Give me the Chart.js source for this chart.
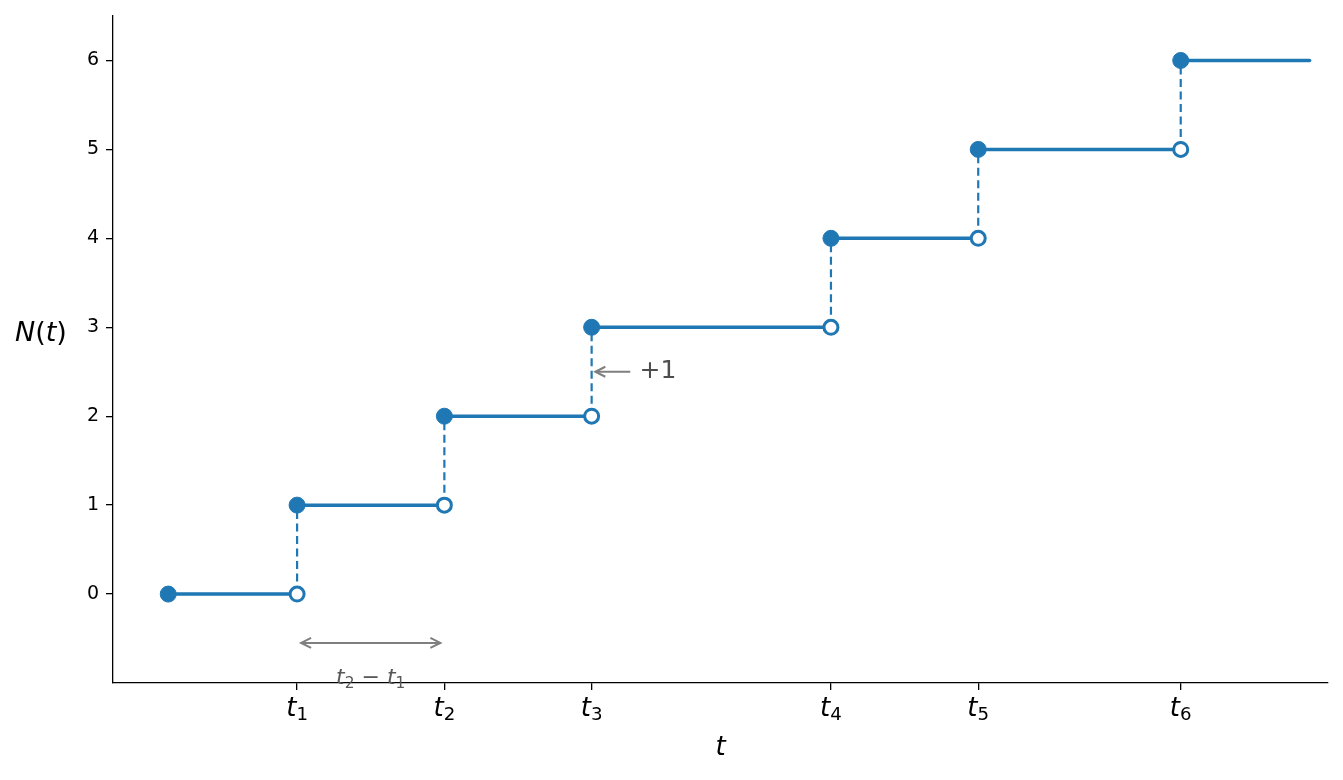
<!DOCTYPE html>
<html>
<head>
<meta charset="utf-8">
<script src="https://cdn.jsdelivr.net/npm/chart.js@4.4.0/dist/chart.umd.min.js"></script>
<style>
  html, body { margin: 0; padding: 0; background: #fff; }
  canvas { display: block; }
</style>
</head>
<body>
<canvas id="myChart" width="1343" height="780"></canvas>
<script>
// counting process N(t): jump times and counts
var startTime = 0;
var jumpTimes = [0.7, 1.5, 2.3, 3.6, 4.4, 5.5];
var endTime = 6.2;
var counts = [0, 1, 2, 3, 4, 5, 6];
var jumpLabels = ['1', '2', '3', '4', '5', '6'];
var yTicks = [0, 1, 2, 3, 4, 5, 6];

// annotations (data coordinates)
var gapArrowY = -0.55;
var gapLabelY = -0.97;
var plusArrow = { fromX: 2.51, toX: 2.32, y: 2.5, textX: 2.56 };

var blue = '#1f77b4';
var allTimes = [startTime].concat(jumpTimes).concat([endTime]);

var datasets = [];

// horizontal steps
for (var i = 0; i < counts.length; i++) {
    datasets.push({
        type: 'line',
        data: [{ x: allTimes[i], y: counts[i] }, { x: allTimes[i + 1], y: counts[i] }],
        borderColor: blue,
        borderWidth: 3.5,
        borderCapStyle: 'round',
        pointRadius: 0,
        order: 3
    });
}

// dashed jumps
for (var j = 0; j < jumpTimes.length; j++) {
    datasets.push({
        type: 'line',
        data: [{ x: jumpTimes[j], y: counts[j] }, { x: jumpTimes[j], y: counts[j + 1] }],
        borderColor: blue,
        borderWidth: 2.2,
        borderDash: [8, 4.5],
        pointRadius: 0,
        order: 2
    });
}

// filled dots (value taken at jump)
datasets.push({
    type: 'scatter',
    data: allTimes.slice(0, counts.length).map(function (t, k) { return { x: t, y: counts[k] }; }),
    backgroundColor: blue,
    borderColor: blue,
    borderWidth: 1,
    pointRadius: 8,
    order: 1
});

// open circles (limit from the left)
datasets.push({
    type: 'scatter',
    data: jumpTimes.map(function (t, k) { return { x: t, y: counts[k] }; }),
    backgroundColor: '#ffffff',
    borderColor: blue,
    borderWidth: 3,
    pointRadius: 7,
    order: 0
});

// draw a mathtext-like run of pieces
function drawMath(ctx, pieces, x, y, size, color, align) {
    var fam = '"DejaVu Sans"';
    function font(p) {
        var s = p.sub ? size * 0.7 : size;
        return (p.italic ? 'italic ' : '') + s + 'px ' + fam;
    }
    var total = 0;
    pieces.forEach(function (p) { ctx.font = font(p); total += ctx.measureText(p.text).width; });
    var cx = align === 'center' ? x - total / 2 : (align === 'right' ? x - total : x);
    ctx.save();
    ctx.fillStyle = color;
    ctx.textBaseline = 'middle';
    ctx.textAlign = 'left';
    pieces.forEach(function (p) {
        ctx.font = font(p);
        ctx.fillText(p.text, cx, p.sub ? y + size * 0.26 : y);
        cx += ctx.measureText(p.text).width;
    });
    ctx.restore();
}

function arrowHead(ctx, x, y, dir) {
    ctx.beginPath();
    ctx.moveTo(x - dir * 10, y - 5);
    ctx.lineTo(x, y);
    ctx.lineTo(x - dir * 10, y + 5);
    ctx.stroke();
}

var annotations = {
    id: 'annotations',
    afterDraw: function (chart) {
        var ctx = chart.ctx;
        var xs = chart.scales.x, ys = chart.scales.y;
        var area = chart.chartArea;

        // x tick labels t_i
        jumpTimes.forEach(function (t, k) {
            drawMath(ctx, [{ text: 't', italic: true }, { text: jumpLabels[k], sub: true }],
                xs.getPixelForValue(t), 709, 26, '#000', 'center');
        });

        // axis titles
        drawMath(ctx, [{ text: 't', italic: true }], (area.left + area.right) / 2, 748, 26, '#000', 'center');
        drawMath(ctx, [{ text: 'N', italic: true }, { text: '(' }, { text: 't', italic: true }, { text: ')' }],
            15, 334, 27, '#000', 'left');

        ctx.save();
        ctx.strokeStyle = '#7f7f7f';
        ctx.lineWidth = 2;
        ctx.lineJoin = 'miter';

        // double arrow between t1 and t2
        var ay = ys.getPixelForValue(gapArrowY);
        var ax0 = xs.getPixelForValue(jumpTimes[0]) + 4;
        var ax1 = xs.getPixelForValue(jumpTimes[1]) - 4;
        ctx.beginPath();
        ctx.moveTo(ax0, ay);
        ctx.lineTo(ax1, ay);
        ctx.stroke();
        arrowHead(ctx, ax0, ay, -1);
        arrowHead(ctx, ax1, ay, 1);

        // +1 arrow
        var py = ys.getPixelForValue(plusArrow.y);
        var px0 = xs.getPixelForValue(plusArrow.fromX);
        var px1 = xs.getPixelForValue(plusArrow.toX);
        ctx.beginPath();
        ctx.moveTo(px0, py);
        ctx.lineTo(px1, py);
        ctx.stroke();
        arrowHead(ctx, px1, py, -1);
        ctx.restore();

        drawMath(ctx, [{ text: '+1' }], xs.getPixelForValue(plusArrow.textX), py, 25, '#4d4d4d', 'left');

        var midT = (jumpTimes[0] + jumpTimes[1]) / 2;
        drawMath(ctx, [{ text: 't', italic: true }, { text: '2', sub: true }, { text: ' \u2212 ' },
                       { text: 't', italic: true }, { text: '1', sub: true }],
            xs.getPixelForValue(midT), ys.getPixelForValue(gapLabelY) - 2, 22, '#595959', 'center');
    }
};

var ctx = document.getElementById('myChart').getContext('2d');
var chart = new Chart(ctx, {
    type: 'line',
    data: { datasets: datasets },
    options: {
        responsive: false,
        animation: false,
        layout: { padding: { top: 16, right: 15, left: 0, bottom: 0 } },
        plugins: { legend: { display: false }, tooltip: { enabled: false } },
        scales: {
            x: {
                type: 'linear',
                min: -0.3,
                max: 6.3,
                afterBuildTicks: function (scale) {
                    scale.ticks = jumpTimes.map(function (t) { return { value: t }; });
                },
                afterFit: function (scale) {
                    scale.height = 97;
                    scale.paddingLeft = 0;
                    scale.paddingRight = 0;
                },
                ticks: { display: false },
                grid: { display: true, drawOnChartArea: false, drawTicks: true, tickLength: 7, color: '#000', lineWidth: 1.3 },
                border: { display: true, color: '#000', width: 1.3 }
            },
            y: {
                type: 'linear',
                min: -1,
                max: 6.5,
                afterBuildTicks: function (scale) {
                    scale.ticks = yTicks.map(function (v) { return { value: v }; });
                },
                afterFit: function (scale) {
                    scale.width = 113;
                    scale.paddingTop = 0;
                    scale.paddingBottom = 0;
                },
                ticks: { color: '#000', font: { family: 'DejaVu Sans', size: 19 }, padding: 7 },
                grid: { display: true, drawOnChartArea: false, drawTicks: true, tickLength: 7, color: '#000', lineWidth: 1.3 },
                border: { display: true, color: '#000', width: 1.3 }
            }
        }
    },
    plugins: [annotations]
});
</script>
</body>
</html>
